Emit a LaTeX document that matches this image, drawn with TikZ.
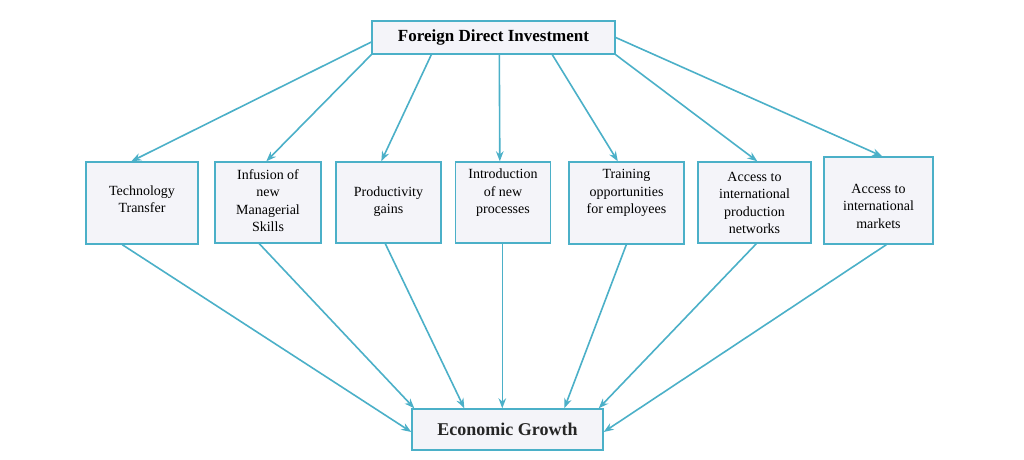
\documentclass[tikz,border=0pt]{standalone}
\usepackage{fontspec}
\setmainfont{Liberation Serif}
\usetikzlibrary{arrows.meta}
\definecolor{teal1}{HTML}{4BB0C8}
\definecolor{boxfill}{HTML}{F4F4F9}
\begin{document}
\begin{tikzpicture}[x=1pt,y=-1pt,
  box/.style={draw=teal1,line width=1.4pt,fill=boxfill,inner sep=0pt},
  txt/.style={align=center,inner sep=0pt,font=\fontsize{14}{17.5}\selectfont},
  conn/.style={draw=teal1,line width=1.6pt,-{Stealth[length=10pt,width=7.5pt]}}]
\useasboundingbox (0,0) rectangle (1024,459);
\fill[white] (0,0) rectangle (1024,459);
\node[box,minimum width=243pt,minimum height=33pt,font=\bfseries\fontsize{17}{20}\selectfont] (fdi) at (493.5,37.5) {Foreign Direct Investment};
\node[box,minimum width=112pt,minimum height=82pt] (tt) at (142,203) {};
\node[txt] (ttT) at (142,199) {Technology\\Transfer};
\node[box,minimum width=106pt,minimum height=81pt] (inf) at (268,202.5) {};
\node[txt] (infT) at (268,200.5) {Infusion of\\new\\Managerial\\Skills};
\node[box,minimum width=105pt,minimum height=81pt] (prod) at (388.5,202.5) {};
\node[txt] (prodT) at (388.5,201.5) {Productivity\\gains};
\node[box,minimum width=95pt,minimum height=81pt] (intro) at (503,202.5) {};
\node[txt] (introT) at (503,193) {Introduction\\of new\\processes};
\node[box,minimum width=115pt,minimum height=82pt] (train) at (626.5,203) {};
\node[txt] (trainT) at (626.5,193) {Training\\opportunities\\for employees};
\node[box,minimum width=113pt,minimum height=81pt] (aprod) at (754.5,202.5) {};
\node[txt] (aprodT) at (754.5,203) {Access to\\international\\production\\networks};
\node[box,minimum width=109pt,minimum height=87pt] (amkt) at (878.5,200.5) {};
\node[txt] (amktT) at (878.5,206) {Access to\\international\\markets};
\node[box,minimum width=191pt,minimum height=41pt,font=\bfseries\fontsize{18}{21}\selectfont,text=black!85] (eg) at (507.5,429.5) {Economic Growth};
% top arrows
\draw[conn] ([yshift=-4.5pt]fdi.west) -- ([xshift=46pt]tt.north west);
\draw[conn] (fdi.south west) -- ([xshift=52pt]inf.north west);
\draw[conn] ([xshift=60pt]fdi.south west) -- ([xshift=46pt]prod.north west);
\draw[conn] ([xshift=128pt]fdi.south west) -- ([xshift=45pt]intro.north west);
\draw[conn] ([xshift=181pt]fdi.south west) -- ([xshift=49.5pt]train.north west);
\draw[conn] (fdi.south east) -- ([xshift=60pt]aprod.north west);
\draw[conn] (fdi.east) -- ([xshift=59pt]amkt.north west);
% bottom arrows
\draw[conn] ([xshift=37pt]tt.south west) -- ([yshift=-2.5pt]eg.west);
\draw[conn] ([xshift=45pt]inf.south west) -- ([xshift=3pt]eg.north west);
\draw[conn] ([xshift=50pt]prod.south west) -- ([xshift=53pt]eg.north west);
\draw[conn] ([xshift=47.5pt]intro.south west) -- ([xshift=91pt]eg.north west);
\draw[conn] ([xshift=58pt]train.south west) -- ([xshift=153pt]eg.north west);
\draw[conn] ([xshift=59pt]aprod.south west) -- ([xshift=-5pt]eg.north east);
\draw[conn] ([xshift=63pt]amkt.south west) -- ([yshift=-2.5pt]eg.east);
\end{tikzpicture}
\end{document}
